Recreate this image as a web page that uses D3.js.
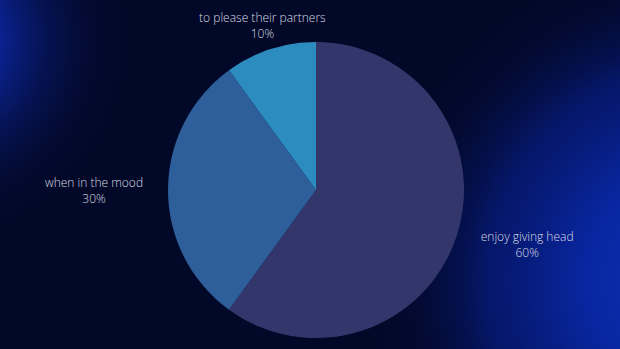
<!DOCTYPE html>
<html>
<head>
<meta charset="utf-8">
<script src="https://cdn.jsdelivr.net/npm/d3@7"></script>
<style>
  html, body { margin: 0; padding: 0; background: #020828; }
  svg { display: block; }
  text { font-family: "Open Sans", sans-serif; }
</style>
</head>
<body>
<svg id="chart" width="620" height="349"></svg>
<script>
/* pie slices, counted clockwise from 12 o'clock */
const labels = ['enjoy giving head', 'when in the mood', 'to please their partners'];
const values = [60, 30, 10];
const sliceColors = ['#32366b', '#2e5f9a', '#2d8cbf'];

const WIDTH = 620, HEIGHT = 349;
const CX = 316, CY = 190, RADIUS = 148;
const LABEL_RADIUS = 222;
const LABEL_Y_SCALE = 0.79;
const TOP_LIMIT = 25;

const svg = d3.select('#chart');

// background: dark navy with blue glows on the right and top-left
const defs = svg.append('defs');
const glowRight = defs.append('radialGradient')
    .attr('id', 'glowRight')
    .attr('gradientUnits', 'userSpaceOnUse')
    .attr('cx', 700).attr('cy', 280).attr('r', 330);
glowRight.append('stop').attr('offset', '0%').attr('stop-color', '#0c31b8');
glowRight.append('stop').attr('offset', '35%').attr('stop-color', '#0826a0');
glowRight.append('stop').attr('offset', '65%').attr('stop-color', '#061a78').attr('stop-opacity', 0.8);
glowRight.append('stop').attr('offset', '100%').attr('stop-color', '#020828').attr('stop-opacity', 0);

const glowLeft = defs.append('radialGradient')
    .attr('id', 'glowLeft')
    .attr('gradientUnits', 'userSpaceOnUse')
    .attr('cx', -70).attr('cy', 40).attr('r', 200);
glowLeft.append('stop').attr('offset', '0%').attr('stop-color', '#0c2ca8');
glowLeft.append('stop').attr('offset', '35%').attr('stop-color', '#0a2290');
glowLeft.append('stop').attr('offset', '100%').attr('stop-color', '#020828').attr('stop-opacity', 0);

svg.append('rect').attr('width', WIDTH).attr('height', HEIGHT).attr('fill', '#020828');
svg.append('rect').attr('width', WIDTH).attr('height', HEIGHT).attr('fill', 'url(#glowRight)');
svg.append('rect').attr('width', WIDTH).attr('height', HEIGHT).attr('fill', 'url(#glowLeft)');

const data = labels.map((label, i) => ({label: label, value: values[i], color: sliceColors[i]}));

const pie = d3.pie().sort(null).value(d => d.value);
const arc = d3.arc().innerRadius(0).outerRadius(RADIUS);

const g = svg.append('g').attr('transform', `translate(${CX},${CY})`);
const arcs = pie(data);

g.selectAll('path')
    .data(arcs)
    .join('path')
    .attr('d', arc)
    .attr('fill', d => d.data.color);

// labels sit along each slice's mid angle, pulled in if they would leave the top
function labelPosition(d) {
    let angle = (d.startAngle + d.endAngle) / 2;
    let dx = Math.sin(angle), dy = -Math.cos(angle);
    let r = LABEL_RADIUS;
    if (CY + dy * r < TOP_LIMIT) r = (TOP_LIMIT - CY) / dy;
    let y = dy * r;
    if (dy > 0) y *= LABEL_Y_SCALE;
    return [dx * r, y];
}

const labelGroups = g.selectAll('g.label')
    .data(arcs)
    .join('g')
    .attr('class', 'label')
    .attr('transform', d => `translate(${labelPosition(d)})`);

labelGroups.append('text')
    .attr('text-anchor', 'middle')
    .attr('y', -3)
    .attr('fill', '#dadbe2')
    .attr('font-size', 12)
    .attr('font-weight', 300)
    .text(d => d.data.label);

labelGroups.append('text')
    .attr('text-anchor', 'middle')
    .attr('y', 13)
    .attr('fill', '#dadbe2')
    .attr('font-size', 12)
    .attr('font-weight', 300)
    .text(d => d.data.value + '%');
</script>
</body>
</html>
